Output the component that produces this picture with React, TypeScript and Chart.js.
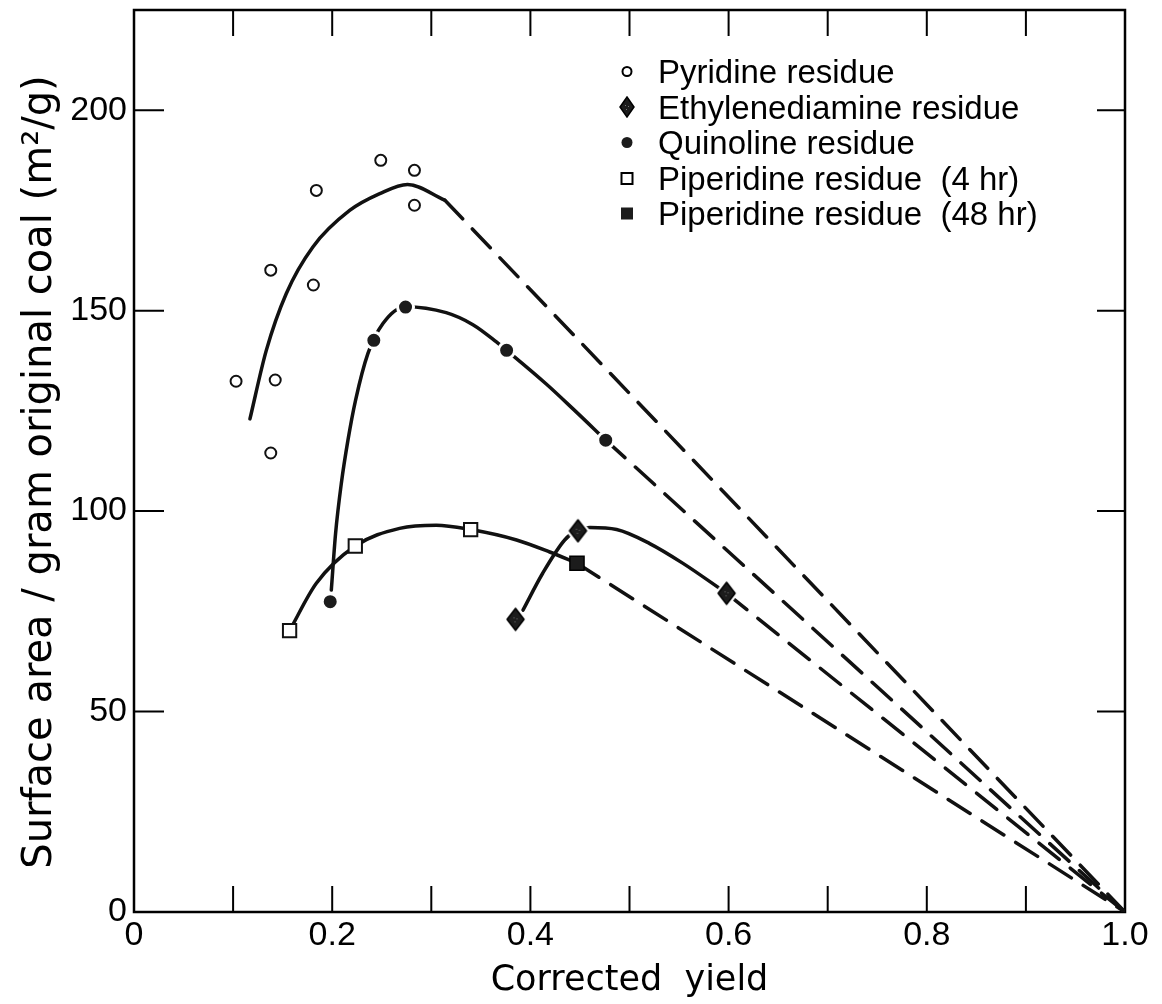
import React, { useEffect, useRef } from 'react';
import { Chart, registerables } from 'chart.js';

Chart.register(...registerables);

// ---------- values ----------
const xTickValues = [0, 0.1, 0.2, 0.3, 0.4, 0.5, 0.6, 0.7, 0.8, 0.9, 1.0];
const xTickLabels = ['0', '', '0.2', '', '0.4', '', '0.6', '', '0.8', '', '1.0'];
const yTickValues = [0, 50, 100, 150, 200];
const yTickLabels = ['0', '50', '100', '150', '200'];

const xTitle = 'Corrected  yield';
const yTitle = 'Surface area / gram original coal (m\u00B2/g)';

const seriesNames = [
  'Pyridine residue',
  'Ethylenediamine residue',
  'Quinoline residue',
  'Piperidine residue  (4 hr)',
  'Piperidine residue  (48 hr)',
];

// Pyridine residue (open circles)
const pyridineX = [0.103, 0.1425, 0.138, 0.138, 0.181, 0.184, 0.249, 0.283, 0.283];
const pyridineY = [132.4, 132.7, 114.5, 160.1, 156.4, 180.0, 187.5, 185.0, 176.3];
const pyridineCurveX = [0.117, 0.1335, 0.1537, 0.1805, 0.2176, 0.248, 0.276, 0.3135];
const pyridineCurveY = [123, 140.1, 154.3, 165.9, 175.0, 179.2, 181.5, 177.6];
const pyridineDashX = [0.3135, 1.0];
const pyridineDashY = [177.6, 0];

// Ethylenediamine residue (diamonds)
const ethyleneX = [0.385, 0.448, 0.598];
const ethyleneY = [73.0, 95.1, 79.5];
const ethyleneCurveX = [0.3925, 0.4124, 0.4346, 0.448, 0.46, 0.487, 0.5204, 0.554, 0.598];
const ethyleneCurveY = [75.3, 84.5, 92.8, 95.3, 95.9, 95.4, 91.9, 86.96, 79.5];
const ethyleneDashX = [0.598, 1.0];
const ethyleneDashY = [79.5, 0];

// Quinoline residue (filled circles)
const quinolineX = [0.198, 0.242, 0.274, 0.376, 0.476];
const quinolineY = [77.4, 142.6, 150.9, 140.1, 117.7];
const quinolineCurveX = [0.1991, 0.2034, 0.2092, 0.2159, 0.2236, 0.236, 0.2512, 0.274, 0.315, 0.342, 0.3657, 0.376, 0.416, 0.443, 0.476];
const quinolineCurveY = [80.3, 94.4, 106.9, 117.7, 127.7, 139.3, 146.8, 151.0, 149.5, 146.5, 142.2, 140.1, 131.7, 125.5, 117.7];
const quinolineDashX = [0.476, 1.0];
const quinolineDashY = [117.7, 0];

// Piperidine residue 4 hr (open squares) and 48 hr (filled square)
const piperidine4X = [0.157, 0.2233, 0.3397];
const piperidine4Y = [70.2, 91.3, 95.4];
const piperidine48X = [0.447];
const piperidine48Y = [87.0];
const piperidineCurveX = [0.157, 0.184, 0.2233, 0.268, 0.305, 0.3397, 0.386, 0.4195, 0.447];
const piperidineCurveY = [70.2, 82.0, 91.3, 95.7, 96.5, 95.4, 92.8, 89.8, 87.0];
const piperidineDashX = [0.447, 1.0];
const piperidineDashY = [87.0, 0];

// ---------- helpers ----------
const pts = (xs: number[], ys: number[]) => xs.map((x, i) => ({ x, y: ys[i] }));

const INK = '#111';
const FILL = '#1c1c1c';

function makeDiamond(w: number, h: number, halo: number): HTMLCanvasElement {
  const c = document.createElement('canvas');
  c.width = Math.ceil(w + 2 * halo + 2);
  c.height = Math.ceil(h + 2 * halo + 2);
  const ctx = c.getContext('2d') as CanvasRenderingContext2D;
  const cx = c.width / 2;
  const cy = c.height / 2;
  const path = () => {
    ctx.beginPath();
    ctx.moveTo(cx, cy - h / 2);
    ctx.lineTo(cx + w / 2, cy);
    ctx.lineTo(cx, cy + h / 2);
    ctx.lineTo(cx - w / 2, cy);
    ctx.closePath();
  };
  if (halo > 0) {
    path();
    ctx.lineJoin = 'round';
    ctx.lineWidth = halo * 2;
    ctx.strokeStyle = '#fff';
    ctx.stroke();
  }
  path();
  ctx.fillStyle = FILL;
  ctx.fill();
  ctx.lineWidth = 1.5;
  ctx.strokeStyle = '#000';
  ctx.stroke();
  ctx.fillStyle = '#777';
  ctx.fillRect(cx - 2, cy - 2, 1, 1);
  ctx.fillRect(cx + 1, cy - 1, 1, 1);
  ctx.fillRect(cx - 1, cy + 2, 1, 1);
  return c;
}

export default function App() {
  const ref = useRef<HTMLCanvasElement | null>(null);

  useEffect(() => {
    const canvas = ref.current;
    if (!canvas) return;
    const plotDiamond = makeDiamond(17, 22, 3);
    const legendDiamond = makeDiamond(14, 20, 0);

    const lineBase = {
      showLine: true,
      pointRadius: 0,
      borderColor: INK,
      borderWidth: 3.5,
      cubicInterpolationMode: 'monotone' as const,
      borderCapStyle: 'round' as const,
      fill: false,
      order: 2,
    };
    const dashBase = {
      ...lineBase,
      cubicInterpolationMode: 'default' as const,
      tension: 0,
      borderDash: [26, 14],
    };

    const datasets: any[] = [
      {
        label: seriesNames[0], data: pts(pyridineX, pyridineY), pointStyle: 'circle',
        pointRadius: 5.5, pointBorderWidth: 2, pointBorderColor: INK, pointBackgroundColor: '#fff', order: 0,
      },
      {
        label: seriesNames[1], data: pts(ethyleneX, ethyleneY), pointStyle: plotDiamond,
        pointRadius: 10, order: 0,
      },
      {
        label: seriesNames[2], data: pts(quinolineX, quinolineY), pointStyle: 'circle',
        pointRadius: 8, pointBorderWidth: 3, pointBorderColor: '#fff', pointBackgroundColor: FILL, order: 0,
      },
      {
        label: seriesNames[3], data: pts(piperidine4X, piperidine4Y), pointStyle: 'rect',
        pointRadius: 9.4, pointBorderWidth: 2, pointBorderColor: INK, pointBackgroundColor: '#fff', order: 0,
      },
      {
        label: seriesNames[4], data: pts(piperidine48X, piperidine48Y), pointStyle: 'rect',
        pointRadius: 10, pointBorderWidth: 1.5, pointBorderColor: '#000', pointBackgroundColor: FILL, order: 0,
      },
      { ...lineBase, label: 'pyridine fit', data: pts(pyridineCurveX, pyridineCurveY) },
      { ...dashBase, label: 'pyridine ext', data: pts(pyridineDashX, pyridineDashY) },
      { ...lineBase, label: 'ethylenediamine fit', data: pts(ethyleneCurveX, ethyleneCurveY) },
      { ...dashBase, label: 'ethylenediamine ext', data: pts(ethyleneDashX, ethyleneDashY) },
      { ...lineBase, label: 'quinoline fit', data: pts(quinolineCurveX, quinolineCurveY) },
      { ...dashBase, label: 'quinoline ext', data: pts(quinolineDashX, quinolineDashY) },
      { ...lineBase, label: 'piperidine fit', data: pts(piperidineCurveX, piperidineCurveY) },
      { ...dashBase, label: 'piperidine ext', data: pts(piperidineDashX, piperidineDashY) },
    ];

    const framePlugin = {
      id: 'frameTicks',
      beforeDatasetsDraw(chart: any) {
        const { ctx, chartArea, scales } = chart;
        const { left, right, top, bottom } = chartArea;
        ctx.save();
        ctx.strokeStyle = '#000';
        ctx.lineWidth = 2.5;
        ctx.strokeRect(left, top, right - left, bottom - top);
        ctx.lineWidth = 2;
        ctx.beginPath();
        xTickValues.forEach((v) => {
          if (v <= 0 || v >= 1) return;
          const px = scales.x.getPixelForValue(v);
          ctx.moveTo(px, bottom);
          ctx.lineTo(px, bottom - 26);
          ctx.moveTo(px, top);
          ctx.lineTo(px, top + 26);
        });
        yTickValues.forEach((v) => {
          if (v <= 0) return;
          const py = scales.y.getPixelForValue(v);
          ctx.moveTo(left, py);
          ctx.lineTo(left + 30, py);
          ctx.moveTo(right, py);
          ctx.lineTo(right - 28, py);
        });
        ctx.stroke();
        ctx.restore();
      },
    };

    const textPlugin = {
      id: 'insideLegendAndYTitle',
      afterDraw(chart: any) {
        const { ctx, chartArea } = chart;
        // y-axis title
        ctx.save();
        ctx.translate(41, (chartArea.top + chartArea.bottom) / 2 + 11);
        ctx.rotate(-Math.PI / 2);
        ctx.font = '40px "DejaVu Sans", sans-serif';
        ctx.fillStyle = '#000';
        ctx.textAlign = 'center';
        ctx.textBaseline = 'middle';
        ctx.fillText(yTitle, 0, 0);
        ctx.restore();

        // legend
        const mx = 627;
        const tx = 658;
        const rows = [83, 118.5, 154, 190, 225];
        ctx.save();
        ctx.font = '33px "Liberation Sans", Arial, sans-serif';
        ctx.textAlign = 'left';
        ctx.textBaseline = 'alphabetic';
        rows.forEach((b, i) => {
          const cy = b - 11.5;
          ctx.strokeStyle = '#000';
          if (i === 0) {
            ctx.beginPath();
            ctx.arc(mx, cy, 4.5, 0, Math.PI * 2);
            ctx.fillStyle = '#fff';
            ctx.fill();
            ctx.lineWidth = 2;
            ctx.stroke();
          } else if (i === 1) {
            ctx.drawImage(legendDiamond, mx - legendDiamond.width / 2, cy - legendDiamond.height / 2);
          } else if (i === 2) {
            ctx.beginPath();
            ctx.arc(mx, cy, 5.5, 0, Math.PI * 2);
            ctx.fillStyle = FILL;
            ctx.fill();
          } else if (i === 3) {
            ctx.fillStyle = '#fff';
            ctx.fillRect(mx - 5.5, cy - 5.5, 11, 11);
            ctx.lineWidth = 2;
            ctx.strokeRect(mx - 5.5, cy - 5.5, 11, 11);
          } else {
            ctx.fillStyle = FILL;
            ctx.fillRect(mx - 6, cy - 6, 12, 12);
          }
          ctx.fillStyle = '#000';
          ctx.fillText(seriesNames[i], tx, b);
        });
        ctx.restore();
      },
    };

    const chart = new Chart(canvas, {
      type: 'scatter',
      data: { datasets },
      options: {
        responsive: false,
        animation: false,
        events: [],
        layout: { padding: { left: 0, right: 37, top: 10, bottom: 0 }, autoPadding: false } as any,
        plugins: { legend: { display: false }, tooltip: { enabled: false } },
        scales: {
          x: {
            type: 'linear',
            min: 0,
            max: 1,
            grid: { display: false, drawTicks: false },
            border: { display: false },
            afterBuildTicks: (s: any) => { s.ticks = xTickValues.map((v) => ({ value: v })); },
            afterFit: (s: any) => { s.height = 92; s.paddingLeft = 0; s.paddingRight = 0; },
            ticks: {
              autoSkip: false,
              maxRotation: 0,
              padding: 3,
              color: '#000',
              font: { family: '"Liberation Sans", Arial, sans-serif', size: 34 },
              callback: (_v: any, i: number) => xTickLabels[i],
            },
            title: {
              display: true,
              text: xTitle,
              color: '#000',
              padding: { top: 0, bottom: 2 },
              font: { family: '"DejaVu Sans", sans-serif', size: 35 },
            },
          },
          y: {
            type: 'linear',
            min: 0,
            max: 225,
            grid: { display: false, drawTicks: false },
            border: { display: false },
            afterBuildTicks: (s: any) => { s.ticks = yTickValues.map((v) => ({ value: v })); },
            afterFit: (s: any) => { s.width = 134; s.paddingTop = 0; s.paddingBottom = 0; },
            ticks: {
              padding: 7,
              color: '#000',
              font: { family: '"Liberation Sans", Arial, sans-serif', size: 34 },
              callback: (_v: any, i: number) => yTickLabels[i],
            },
            title: { display: false },
          },
        },
      } as any,
      plugins: [framePlugin, textPlugin],
    });

    return () => chart.destroy();
  }, []);

  return (
    <div style={{ position: 'absolute', left: 0, top: 0, width: 1162, height: 1004, background: '#fff' }}>
      <canvas ref={ref} width={1162} height={1004} style={{ display: 'block' }} />
    </div>
  );
}
